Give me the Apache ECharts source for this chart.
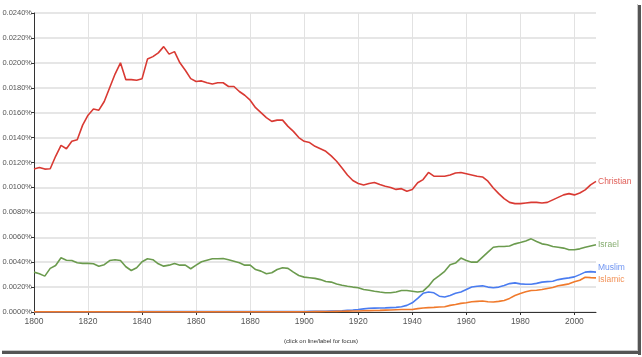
<!DOCTYPE html>
<html>
<head>
<meta charset="utf-8">
<script src="https://cdn.jsdelivr.net/npm/echarts@6/dist/echarts.min.js"></script>
<style>
html,body{margin:0;padding:0;background:#fff;}
#c{width:642px;height:357px;}
</style>
</head>
<body>
<div id="c"></div>
<script>
const years = [1800,1802,1804,1806,1808,1810,1812,1814,1816,1818,1820,1822,1824,1826,1828,1830,1832,1834,1836,1838,
1840,1842,1844,1846,1848,1850,1852,1854,1856,1858,1860,1862,1864,1866,1868,1870,1872,1874,1876,1878,
1880,1882,1884,1886,1888,1890,1892,1894,1896,1898,1900,1902,1904,1906,1908,1910,1912,1914,1916,1918,
1920,1922,1924,1926,1928,1930,1932,1934,1936,1938,1940,1942,1944,1946,1948,1950,1952,1954,1956,1958,
1960,1962,1964,1966,1968,1970,1972,1974,1976,1978,1980,1982,1984,1986,1988,1990,1992,1994,1996,1998,
2000,2002,2004,2006,2008];

const christian = [0.01147,0.0116,0.01147,0.0115,0.0125,0.01337,0.0131,0.0137,0.01383,0.0150,
0.0158,0.0163,0.0162,0.0169,0.0180,0.0191,0.0200,0.01865,0.01865,0.0186,
0.01873,0.0203,0.0205,0.0208,0.0213,0.0207,0.0209,0.0200,0.0194,0.01873,
0.0185,0.01855,0.0184,0.0183,0.0184,0.0184,0.0181,0.0181,0.0177,0.0174,
0.0170,0.0164,0.0160,0.0156,0.0153,0.0154,0.0154,0.0149,0.0145,0.0140,
0.0137,0.0136,0.0133,0.0131,0.0129,0.01253,0.0121,0.01155,0.0110,0.01055,
0.01032,0.0102,0.01032,0.0104,0.01024,0.0101,0.0100,0.00984,0.0099,0.0097,
0.00984,0.01037,0.01063,0.0112,0.0109,0.0109,0.0109,0.0110,0.01116,0.0112,
0.0111,0.0110,0.0109,0.01084,0.0105,0.00995,0.0095,0.0091,0.0088,0.0087,
0.0087,0.00875,0.0088,0.0088,0.00875,0.0088,0.0090,0.0092,0.0094,0.0095,
0.0094,0.00955,0.0098,0.0102,0.01048];

const israel = [0.0032,0.00307,0.00288,0.0035,0.00373,0.00435,0.00416,0.00413,0.00395,0.0039,
0.0039,0.00387,0.00368,0.0038,0.00413,0.0042,0.00413,0.00363,0.00333,0.00355,
0.00403,0.00427,0.0042,0.00387,0.00368,0.00376,0.0039,0.00376,0.00376,0.00347,
0.00376,0.00403,0.00416,0.00427,0.00427,0.0043,0.0042,0.00408,0.00395,0.00376,
0.00376,0.00341,0.00328,0.00307,0.00315,0.00341,0.00355,0.0035,0.0032,0.00293,
0.0028,0.00275,0.0027,0.0026,0.00245,0.0024,0.00225,0.00215,0.00207,0.002,
0.00194,0.0018,0.00175,0.00167,0.0016,0.00154,0.00154,0.0016,0.00173,0.00173,
0.00167,0.0016,0.00167,0.00207,0.0026,0.00292,0.00327,0.0038,0.00393,0.00433,
0.00414,0.004,0.004,0.0044,0.0048,0.0052,0.00526,0.00526,0.0053,0.00547,
0.00558,0.0057,0.00587,0.00566,0.00547,0.0054,0.00526,0.0052,0.00513,0.005,
0.005,0.00507,0.0052,0.0053,0.0054];

const muslim = [0.00001,0.00001,0.00001,0.00001,0.00001,0.00001,0.00001,0.00001,0.00001,0.00001,
0.00001,0.00001,0.00001,0.00001,0.00001,0.00001,0.00001,0.00001,0.00001,0.00001,
0.00003,0.00003,0.00003,0.00003,0.00003,0.00003,0.00003,0.00003,0.00003,0.00003,
0.00003,0.00003,0.00003,0.00003,0.00003,0.00003,0.00003,0.00003,0.00003,0.00003,
0.00003,0.00003,0.00003,0.00003,0.00003,0.00003,0.00003,0.00003,0.00003,0.00003,
0.00004,0.00005,0.00005,0.00006,0.00006,0.00007,0.00008,0.0001,0.00013,0.00016,
0.0002,0.00025,0.0003,0.00031,0.00032,0.00033,0.00035,0.00037,0.00042,0.00053,
0.00074,0.0011,0.0015,0.0016,0.00154,0.00127,0.0012,0.00133,0.0015,0.0016,
0.0018,0.002,0.00207,0.0021,0.002,0.00194,0.002,0.00212,0.00228,0.00234,
0.00226,0.00223,0.00223,0.0023,0.0024,0.00244,0.00247,0.0026,0.00268,0.00274,
0.00282,0.003,0.0032,0.00324,0.0032];

const islamic = [0.00001,0.00001,0.00001,0.00001,0.00001,0.00001,0.00001,0.00001,0.00001,0.00001,
0.00001,0.00001,0.00001,0.00001,0.00001,0.00001,0.00001,0.00001,0.00001,0.00001,
0.00001,0.00001,0.00001,0.00001,0.00001,0.00001,0.00001,0.00001,0.00001,0.00001,
0.00001,0.00001,0.00001,0.00001,0.00001,0.00001,0.00001,0.00001,0.00001,0.00001,
0.00001,0.00001,0.00001,0.00001,0.00001,0.00001,0.00001,0.00001,0.00001,0.00001,
0.00002,0.00002,0.00003,0.00003,0.00004,0.00004,0.00005,0.00006,0.00007,0.00008,
0.00008,0.0001,0.00011,0.00012,0.00013,0.00015,0.00016,0.00018,0.0002,0.0002,
0.0002,0.00027,0.00032,0.00035,0.00037,0.0004,0.00042,0.00053,0.0006,0.00069,
0.00074,0.00082,0.00085,0.00088,0.00082,0.0008,0.00085,0.00093,0.00109,0.00133,
0.00149,0.00162,0.00173,0.00175,0.0018,0.00189,0.00197,0.0021,0.00218,0.00226,
0.00242,0.00255,0.00279,0.00276,0.00274];

const xTicks = [1800,1820,1840,1860,1880,1900,1920,1940,1960,1980,2000];
const seriesNames = ['Christian','Israel','Muslim','Islamic'];
const seriesColors = ['#d93a33','#6b9b4e','#4a7cf0','#f07a2c'];
const labelColors = ['#e0605a','#86ad70','#6f95f2','#f2935a'];
const footnote = '(click on line/label for focus)';

const FONT = '"Liberation Sans",Arial,sans-serif';
const pairs = arr => years.map((y, i) => [y, arr[i]]);
const values = [christian, israel, muslim, islamic];
const labelOffsets = [[0,0],[0,0],[0,-4],[0,2]];
const zOrder = [10, 9, 7, 8];

const chart = echarts.init(document.getElementById('c'), null, {renderer: 'canvas'});
chart.setOption({
  animation: false,
  backgroundColor: '#fff',
  grid: {left: 34, top: 13, right: 46, bottom: 45, containLabel: false, outerBoundsMode: 'none'},
  xAxis: {
    type: 'value', min: 1800, max: 2008, interval: 20,
    axisLine: {show: true, lineStyle: {color: '#333', width: 1}},
    axisTick: {show: true, length: 3, customValues: xTicks, lineStyle: {color: '#333'}},
    axisLabel: {customValues: xTicks, color: '#555', fontFamily: FONT, fontSize: 8.5, margin: 5,
      formatter: v => String(v)},
    splitLine: {show: true, lineStyle: {color: '#e2e2e2', width: 1}}
  },
  yAxis: {
    type: 'value', min: 0, max: 0.024, interval: 0.002,
    axisLine: {show: true, lineStyle: {color: '#333', width: 1}},
    axisTick: {show: true, length: 3, lineStyle: {color: '#333'}},
    axisLabel: {color: '#555', fontFamily: FONT, fontSize: 7.5, margin: 2,
      formatter: v => v.toFixed(4) + '%'},
    splitLine: {show: true, lineStyle: {color: '#e6e6e6', width: 2}}
  },
  series: seriesNames.map((name, i) => ({
    name: name,
    type: 'line',
    data: pairs(values[i]),
    showSymbol: false,
    smooth: false,
    z: zOrder[i],
    lineStyle: {color: seriesColors[i], width: 1.6},
    itemStyle: {color: seriesColors[i]},
    endLabel: {show: true, formatter: '{a}', color: labelColors[i], fontFamily: FONT,
      fontSize: 8.5, distance: 2, offset: labelOffsets[i]}
  })),
  graphic: [
    {type: 'text', left: 'center', top: 338, style: {text: footnote, fill: '#333', font: '6px ' + FONT}},
    {type: 'rect', shape: {x: 637, y: 4, width: 1, height: 347}, style: {fill: '#c8c8c8'}},
    {type: 'rect', shape: {x: 638, y: 5, width: 3, height: 350}, style: {fill: '#555'}},
    {type: 'rect', shape: {x: 2, y: 350, width: 636, height: 1}, style: {fill: '#c8c8c8'}},
    {type: 'rect', shape: {x: 2, y: 351, width: 639, height: 3}, style: {fill: '#555'}}
  ]
});
</script>
</body>
</html>
